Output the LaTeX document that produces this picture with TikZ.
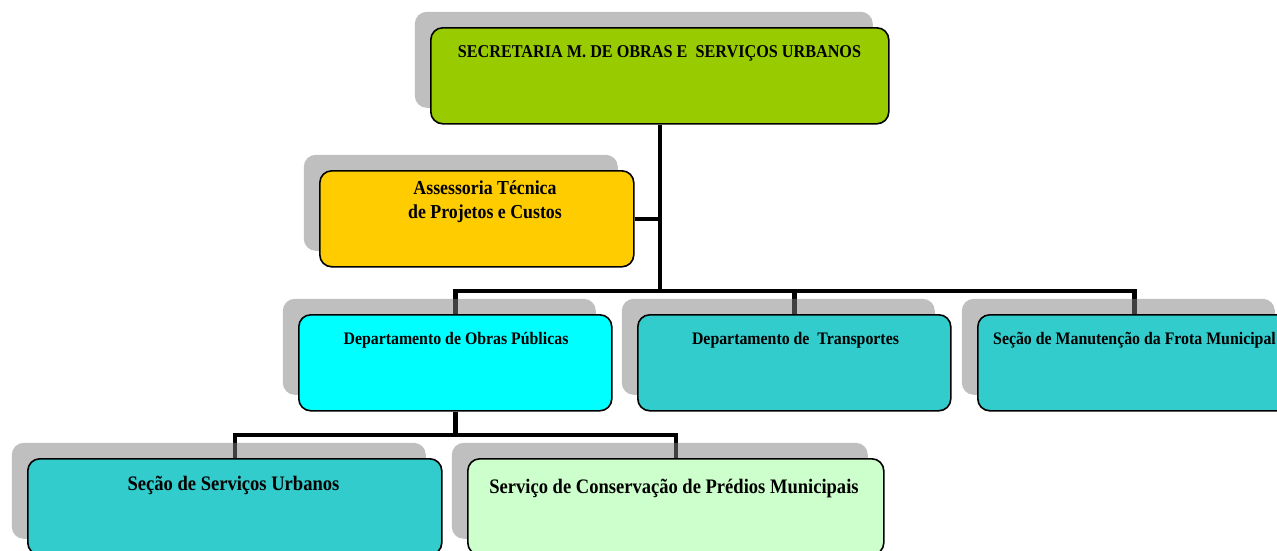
\documentclass[tikz,border=0pt]{standalone}
\usepackage{fontspec}
\setmainfont{Liberation Serif}[FakeStretch=0.9]
\usetikzlibrary{shadows,backgrounds}
\definecolor{cgreen}{HTML}{99CC00}
\definecolor{cgold}{HTML}{FFCC00}
\definecolor{ccyan}{HTML}{00FFFF}
\definecolor{cteal}{HTML}{33CCCC}
\definecolor{cmint}{HTML}{CCFFCC}
\begin{document}
\begin{tikzpicture}[x=1pt,y=-1pt,
  box/.style={draw=black, line width=1.6pt, rounded corners=12pt, anchor=north west,
    inner sep=0pt, minimum height=96pt,
    drop shadow={shadow xshift=-16pt, shadow yshift=16pt}},
  lbl/.style={font=\bfseries\fontsize{17.6}{24}\selectfont, align=center, anchor=base, inner sep=0pt},
  lblm/.style={lbl, font=\bfseries\fontsize{19.8}{24}\selectfont},
  lblb/.style={lbl, font=\bfseries\fontsize{20.6}{24}\selectfont},
  conn/.style={line width=4.5pt, draw=black, line join=miter}]
\useasboundingbox (0,0) rectangle (1277,550);

% boxes
\node[box, fill=cgreen, minimum width=458pt] (top) at (430,27) {};
\node[box, fill=cgold, minimum width=314pt] (assess) at (319,170) {};
\node[box, fill=ccyan, minimum width=313pt] (dop) at (298,314) {};
\node[box, fill=cteal, minimum width=313pt] (dtr) at (637,314) {};
\node[box, fill=cteal, minimum width=313pt] (sman) at (977,314) {};
\node[box, fill=cteal, minimum width=414pt] (ssu) at (27,458) {};
\node[box, fill=cmint, minimum width=416pt] (scp) at (467,458) {};

% labels
\node[lbl, font=\bfseries\fontsize{18}{24}\selectfont] (ttop) at (659.5,57) {SECRETARIA M. DE OBRAS E\ \ SERVIÇOS URBANOS};
\node[lblm] (tassess) at (485,218) {Assessoria Técnica\\ de Projetos e Custos};
\node[lbl] (tdop) at (456,344) {Departamento de Obras Públicas};
\node[lbl] (tdtr) at (795.5,344) {Departamento de\ \ Transportes};
\node[lbl] (tsman) at (1134.5,344) {Seção de Manutenção da Frota Municipal};
\node[lblb] (tssu) at (233.5,490) {Seção de Serviços Urbanos};
\node[lblb] (tscp) at (674,493) {Serviço de Conservação de Prédios Municipais};

% connectors
\coordinate (j1) at (top.south |- 0,291);
\coordinate (j2) at (dop.south |- 0,435);
\begin{scope}[on background layer]
  \draw[conn] (assess.east) -- (assess.east -| j1);
  \draw[conn] (top.south) -- (j1);
  \draw[conn] (dop.north) |- (sman.north |- j1) -- (sman.north);
  \draw[conn] (dtr.north) -- (dtr.north |- j1);
  \draw[conn] (dop.south) -- (j2);
  \draw[conn] (ssu.north) |- (j2) -| (scp.north);
\end{scope}
\end{tikzpicture}
\end{document}
